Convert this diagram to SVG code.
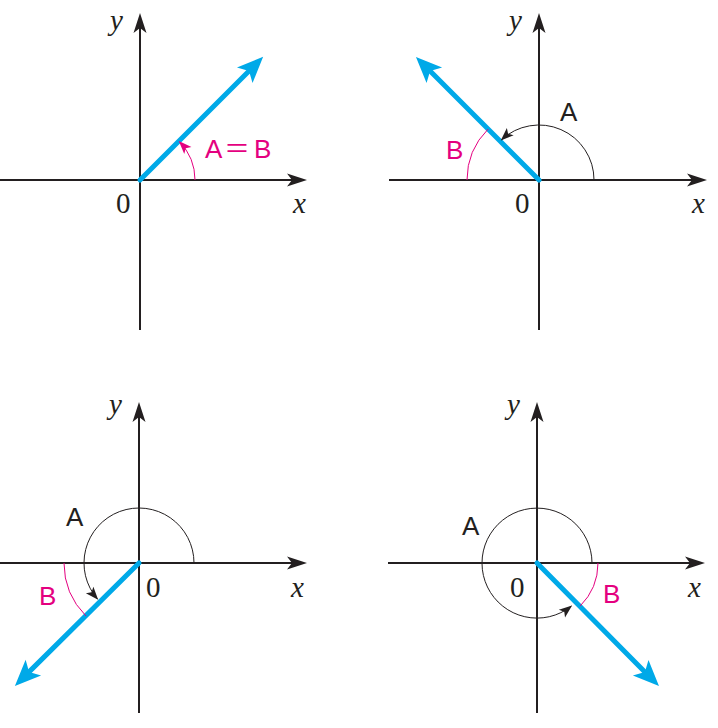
<svg xmlns="http://www.w3.org/2000/svg" width="718" height="728" viewBox="0 0 718 728">
<style>
.axis{stroke:#231F20;stroke-width:2;fill:none}
.vec{stroke:#00A9E8;stroke-width:5;fill:none;stroke-linecap:round}
.arcA{stroke:#231F20;stroke-width:1;fill:none}
.arcB{stroke:#E4007F;stroke-width:1;fill:none}
.lbl{font-family:"Liberation Sans","Noto Sans CJK JP",Arial,sans-serif;font-size:26px}
.pk{fill:#E4007F}
.bk{fill:#231F20}
.num{font-family:"Liberation Serif","Times New Roman",serif;font-size:29px;fill:#231F20}
.var{font-family:"Liberation Serif","Times New Roman",serif;font-style:italic;font-size:29px;fill:#231F20}
</style>
<defs>
<marker id="axHead" markerUnits="userSpaceOnUse" viewBox="-6 -8 22 16" refX="0" refY="0" markerWidth="22" markerHeight="16" orient="auto">
<path d="M15,0 L-5,-6.5 L0,0 L-5,6.5 Z" fill="#231F20"/>
</marker>
<marker id="vecHead" markerUnits="userSpaceOnUse" viewBox="-8 -12 30 24" refX="0" refY="0" markerWidth="30" markerHeight="24" orient="auto">
<path d="M20,0 L-6,-11 L0,0 L-6,11 Z" fill="#00A9E8"/>
</marker>
<marker id="blkHead" markerUnits="userSpaceOnUse" viewBox="-13 -6 15 12" refX="0" refY="0" markerWidth="15" markerHeight="12" orient="auto">
<path d="M1,0 L-12,-5 L-9,0 L-12,5 Z" fill="#231F20"/>
</marker>
<marker id="pkHead" markerUnits="userSpaceOnUse" viewBox="-13 -6 15 12" refX="0" refY="0" markerWidth="15" markerHeight="12" orient="auto">
<path d="M1,0 L-12,-5 L-9,0 L-12,5 Z" fill="#E4007F"/>
</marker>
</defs>

<g id="connectors">
<!-- Panel 1 -->
<line class="axis" x1="0" y1="180" x2="292" y2="180" marker-end="url(#axHead)"/>
<line class="axis" x1="140" y1="330" x2="140" y2="28" marker-end="url(#axHead)"/>
<line class="vec" x1="140" y1="180" x2="249" y2="71" marker-end="url(#vecHead)"/>
<path class="arcB" d="M195,180 A55,55 0 0 0 179.5,141.8" marker-end="url(#pkHead)"/>
<!-- Panel 2 -->
<line class="axis" x1="389" y1="180" x2="692" y2="180" marker-end="url(#axHead)"/>
<line class="axis" x1="539" y1="330" x2="539" y2="28" marker-end="url(#axHead)"/>
<line class="vec" x1="539" y1="180" x2="430.1" y2="71.1" marker-end="url(#vecHead)"/>
<path class="arcA" d="M594,180 A55,55 0 0 0 501.5,139.8" marker-end="url(#blkHead)"/>
<path class="arcB" d="M488.1,129.1 A72,72 0 0 0 467,180"/>
<!-- Panel 3 -->
<line class="axis" x1="0" y1="563" x2="292" y2="563" marker-end="url(#axHead)"/>
<line class="axis" x1="139" y1="713" x2="139" y2="417" marker-end="url(#axHead)"/>
<line class="vec" x1="139" y1="563" x2="29.1" y2="671.9" marker-end="url(#vecHead)"/>
<path class="arcA" d="M194,563 A55,55 0 1 0 97.5,599.1" marker-end="url(#blkHead)"/>
<path class="arcB" d="M64,563 A75,75 0 0 0 86,616"/>
<!-- Panel 4 -->
<line class="axis" x1="388" y1="563" x2="690" y2="563" marker-end="url(#axHead)"/>
<line class="axis" x1="537" y1="713" x2="537" y2="417" marker-end="url(#axHead)"/>
<line class="vec" x1="537" y1="563" x2="644.9" y2="671.9" marker-end="url(#vecHead)"/>
<path class="arcA" d="M592,563 A55,55 0 1 0 571.3,606.1" marker-end="url(#blkHead)"/>
<path class="arcB" d="M598,563 A61,61 0 0 1 580.1,606.1"/>
</g>

<g id="panel1">
<text class="var" x="110" y="30">y</text>
<text class="var" x="293" y="213">x</text>
<text class="num" x="116" y="213">0</text>
<text class="lbl pk" y="158"><tspan x="205">A</tspan><tspan x="224">＝</tspan><tspan x="254">B</tspan></text>
</g>
<g id="panel2">
<text class="var" x="509" y="30">y</text>
<text class="var" x="692" y="213">x</text>
<text class="num" x="515" y="213">0</text>
<text class="lbl bk" x="560" y="121">A</text>
<text class="lbl pk" x="446" y="159">B</text>
</g>
<g id="panel3">
<text class="var" x="109" y="414">y</text>
<text class="var" x="291" y="597">x</text>
<text class="num" x="146" y="597">0</text>
<text class="lbl bk" x="66" y="526">A</text>
<text class="lbl pk" x="39" y="605">B</text>
</g>
<g id="panel4">
<text class="var" x="507" y="414">y</text>
<text class="var" x="688" y="597">x</text>
<text class="num" x="510" y="597">0</text>
<text class="lbl bk" x="462" y="535">A</text>
<text class="lbl pk" x="603" y="603">B</text>
</g>
</svg>
